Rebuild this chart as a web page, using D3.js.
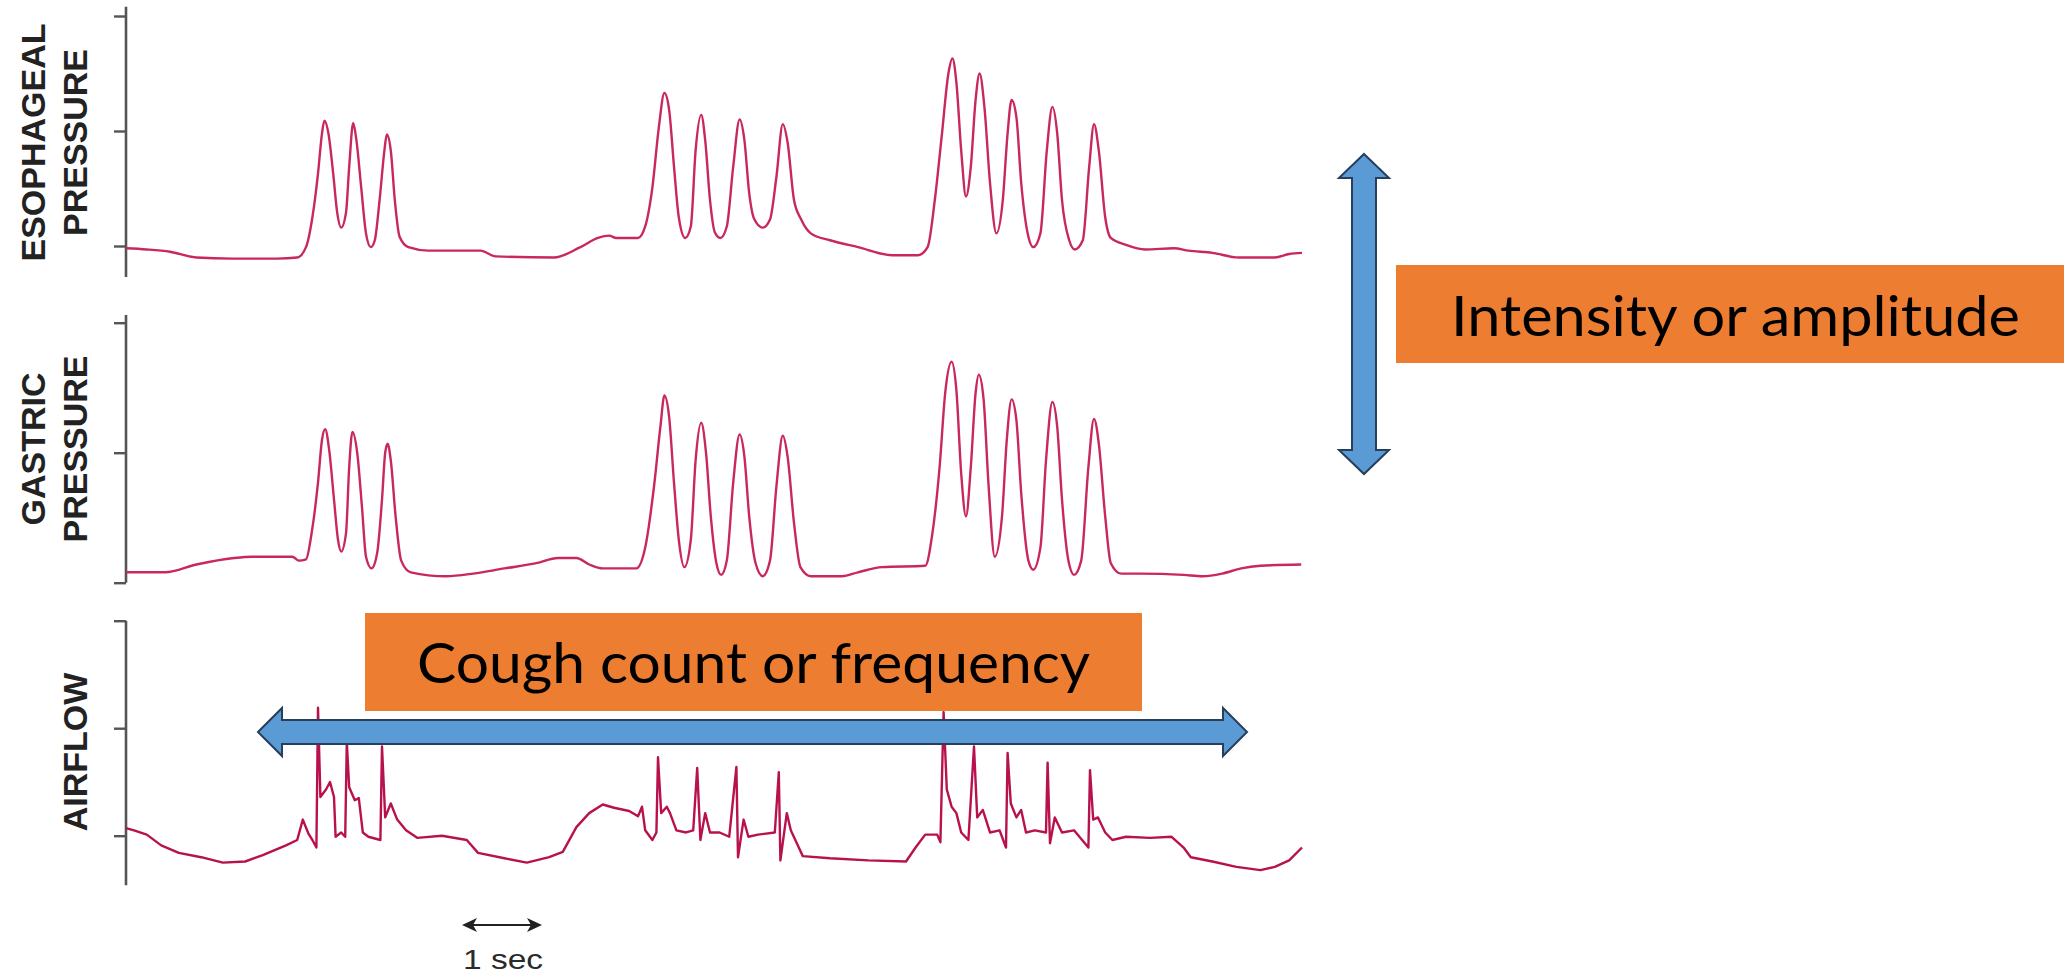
<!DOCTYPE html>
<html>
<head>
<meta charset="utf-8">
<script src="https://cdn.jsdelivr.net/npm/d3@7"></script>
<style>
  html, body { margin: 0; padding: 0; background: #ffffff; }
  svg { display: block; }
</style>
</head>
<body>
<svg id="chart" width="2064" height="976"></svg>
<script>
// ---------------- DATA ----------------
// time in seconds, pressure / flow in arbitrary units (ticks at 0, 100, 200)
const esoTime = [0,0.26,0.55,0.88,1.33,1.89,2.14,2.25,2.33,2.4,2.45,2.48,2.53,2.59,2.64,2.69,2.75,2.79,2.84,2.88,2.94,3.0,3.06,3.11,3.17,3.23,3.26,3.31,3.36,3.42,3.53,3.78,4.43,4.62,5.35,5.68,5.9,6.04,6.13,6.4,6.49,6.58,6.66,6.73,6.79,6.85,6.91,6.99,7.06,7.12,7.19,7.24,7.3,7.36,7.43,7.51,7.59,7.67,7.73,7.79,7.85,7.96,8.05,8.13,8.21,8.27,8.35,8.44,8.56,8.8,9.15,9.58,9.9,10.02,10.11,10.2,10.28,10.33,10.38,10.44,10.5,10.56,10.62,10.67,10.73,10.8,10.88,10.96,11.02,11.07,11.13,11.19,11.28,11.34,11.43,11.51,11.58,11.64,11.7,11.79,11.86,11.96,12.04,12.1,12.16,12.24,12.31,12.5,12.74,13.1,13.28,13.58,13.91,14.36,14.54,14.7];
const esoValue = [-2,-3,-5,-10,-11,-11,-10,-1,25,63,98,109,98,63,29,16,29,69,107,92,51,11,-1,5,40,83,97,83,40,8,-1,-4,-4,-9,-10,-1,7,9,7,7,17,51,103,133,118,69,25,7,17,83,114,92,40,12,7,17,69,110,92,46,24,16,23,60,106,90,40,23,11,5,-1,-8,-8,-1,40,98,150,163,142,83,43,69,127,150,121,55,11,40,98,127,112,55,8,-1,11,83,121,98,40,5,-3,5,69,106,83,25,7,1,-3,-2,-4,-6,-10,-10,-7,-6];

const gasTime = [0,0.49,0.88,1.35,1.58,2.08,2.16,2.25,2.32,2.4,2.45,2.49,2.54,2.6,2.65,2.69,2.75,2.79,2.83,2.89,2.95,3.0,3.07,3.14,3.2,3.24,3.27,3.31,3.37,3.44,3.56,4.0,4.34,4.73,5.13,5.4,5.63,5.79,5.96,6.38,6.49,6.6,6.68,6.73,6.79,6.85,6.91,6.98,7.06,7.12,7.19,7.25,7.31,7.38,7.44,7.51,7.59,7.67,7.73,7.79,7.87,7.96,8.05,8.13,8.21,8.27,8.35,8.43,8.56,8.95,9.15,9.45,9.99,10.08,10.17,10.24,10.32,10.38,10.44,10.5,10.56,10.62,10.66,10.72,10.78,10.86,10.95,11.01,11.07,11.13,11.19,11.28,11.34,11.43,11.5,11.58,11.64,11.7,11.78,11.85,11.94,12.03,12.1,12.16,12.24,12.31,12.44,12.68,13.22,13.46,13.7,13.94,14.18,14.69];
const gasValue = [8,8,14,19,20,20,17,18,38,77,110,118,102,64,33,24,38,89,116,100,58,20,11,23,64,100,107,94,51,17,8,5,7,11,15,19,19,14,11,11,27,74,120,144,127,77,33,12,33,94,123,100,51,15,6,17,77,114,97,51,15,5,17,74,113,97,46,12,5,5,8,12,13,38,89,146,170,148,84,51,89,146,160,141,77,20,51,110,141,125,69,17,10,27,94,139,120,64,17,6,17,89,126,107,51,15,7,7,6,5,7,11,13,14];

const airTime = [0,0.1,0.26,0.44,0.66,0.94,1.21,1.49,1.71,2.0,2.14,2.21,2.28,2.33,2.38,2.4,2.43,2.5,2.55,2.6,2.62,2.69,2.74,2.76,2.79,2.86,2.91,2.96,3.03,3.18,3.2,3.24,3.31,3.39,3.5,3.64,3.95,4.26,4.4,4.73,5.01,5.29,5.46,5.63,5.79,5.96,6.1,6.29,6.4,6.45,6.49,6.58,6.63,6.65,6.69,6.76,6.8,6.88,7.0,7.09,7.14,7.18,7.24,7.3,7.42,7.54,7.63,7.65,7.72,7.78,7.9,8.11,8.16,8.18,8.26,8.31,8.41,8.46,8.8,9.28,9.75,9.87,9.99,10.14,10.18,10.22,10.26,10.32,10.38,10.44,10.53,10.6,10.64,10.71,10.8,10.92,11.0,11.02,11.06,11.13,11.19,11.25,11.36,11.5,11.52,11.55,11.61,11.7,11.85,12.03,12.05,12.09,12.15,12.24,12.33,12.5,12.8,13.07,13.22,13.31,13.58,13.88,14.18,14.36,14.54,14.7];
const airValue = [7,5,1,-9,-16,-20,-25,-24,-18,-9,-4,15,2,-4,-11,119,36,43,50,36,-1,3,-1,87,45,33,35,3,-1,-4,83,17,30,15,5,-2,0,-4,-16,-21,-25,-20,-15,8,21,29,26,23,18,27,5,-4,3,73,21,27,21,5,3,5,63,-4,21,3,3,-1,64,-20,15,-1,1,3,59,-23,21,5,-11,-19,-21,-23,-24,-11,1,1,-6,115,43,27,21,3,-4,83,17,24,3,5,-11,77,30,17,24,3,5,3,68,-7,17,3,5,-11,61,15,17,3,-4,-1,-2,-1,-11,-20,-24,-29,-32,-29,-23,-11];

const panelLabels = [["ESOPHAGEAL", "PRESSURE"], ["GASTRIC", "PRESSURE"], ["AIRFLOW"]];
const tickValues = [0, 100, 200];
const timeDomain = [0, 14.7];
const scaleBar = [4.2, 5.2];          // one second
const scaleBarLabel = "1 sec";
const annotationLabels = ["Cough count or frequency", "Intensity or amplitude"];

// ---------------- LAYOUT ----------------
const svg = d3.select("#chart");
svg.append("rect").attr("width", 2064).attr("height", 976).attr("fill", "#ffffff");

const x = d3.scaleLinear().domain(timeDomain).range([126, 1302]);

const panels = [
  { time: esoTime, value: esoValue, labels: panelLabels[0], y0: 246,   y200: 16,    spine: [-27, 208], labelY: 142.5, color: "#c8285f", width: 2.4 },
  { time: gasTime, value: gasValue, labels: panelLabels[1], y0: 582.7, y200: 322.7, spine: [0, 206],   labelY: 449,   color: "#c8285f", width: 2.4 },
  { time: airTime, value: airValue, labels: panelLabels[2], y0: 835.7, y200: 620.7, spine: [-46, 200], labelY: 752,   color: "#b8124e", width: 2.4 }
];

panels.forEach((p, i) => {
  const y = d3.scaleLinear().domain([0, 200]).range([p.y0, p.y200]);
  const g = svg.append("g");

  const axis = d3.axisLeft(y).tickValues(tickValues).tickSize(12).tickFormat("");
  const ag = g.append("g").attr("transform", "translate(126,0)").call(axis);
  ag.select(".domain").remove();
  ag.selectAll(".tick line").attr("stroke", "#555").attr("stroke-width", 2.4);

  g.append("line")
    .attr("x1", 126).attr("x2", 126)
    .attr("y1", y(p.spine[0])).attr("y2", y(p.spine[1]))
    .attr("stroke", "#555").attr("stroke-width", 2.6);

  const pts = p.time.map((t, k) => [t, p.value[k]]);
  const line = d3.line()
    .x(d => x(d[0]))
    .y(d => y(d[1]))
    .curve(i === 2 ? d3.curveLinear : d3.curveMonotoneX);
  g.append("path")
    .datum(pts)
    .attr("d", line)
    .attr("fill", "none")
    .attr("stroke", p.color)
    .attr("stroke-width", p.width)
    .attr("stroke-linejoin", "round");

  const n = p.labels.length;
  p.labels.forEach((lab, k) => {
    const bx = n === 2 ? (k === 0 ? 45 : 87) : 87;
    svg.append("text")
      .attr("transform", `translate(${bx},${p.labelY}) rotate(-90)`)
      .attr("text-anchor", "middle")
      .attr("font-family", "'Liberation Sans', Arial, sans-serif")
      .attr("font-weight", "bold")
      .attr("font-size", 34)
      .attr("fill", "#222")
      .text(lab);
  });
});

// ---------------- SCALE BAR (1 sec) ----------------
const sbY = 925;
const sx0 = x(scaleBar[0]), sx1 = x(scaleBar[1]);
svg.append("line").attr("x1", sx0 + 6).attr("x2", sx1 - 6).attr("y1", sbY).attr("y2", sbY)
  .attr("stroke", "#222").attr("stroke-width", 2.2);
svg.append("path")
  .attr("d", `M${sx0},${sbY} L${sx0 + 15},${sbY - 7} L${sx0 + 11},${sbY} L${sx0 + 15},${sbY + 7} Z`)
  .attr("fill", "#222");
svg.append("path")
  .attr("d", `M${sx1},${sbY} L${sx1 - 15},${sbY - 7} L${sx1 - 11},${sbY} L${sx1 - 15},${sbY + 7} Z`)
  .attr("fill", "#222");
svg.append("text")
  .attr("x", sx0 + 1).attr("y", 969)
  .attr("font-family", "'Liberation Sans', Arial, sans-serif")
  .attr("font-size", 28)
  .attr("fill", "#2a2a2a")
  .attr("textLength", 80).attr("lengthAdjust", "spacingAndGlyphs")
  .text(scaleBarLabel);

// ---------------- ANNOTATIONS ----------------
const arrowFill = "#5b9bd5", arrowStroke = "#263f5c";

{
  const xl = 258, xr = 1247, cy = 732, head = 24, hh = 24, sh = 12;
  const d = `M${xl},${cy} L${xl + head},${cy - hh} L${xl + head},${cy - sh} L${xr - head},${cy - sh} L${xr - head},${cy - hh} L${xr},${cy} L${xr - head},${cy + hh} L${xr - head},${cy + sh} L${xl + head},${cy + sh} L${xl + head},${cy + hh} Z`;
  svg.append("path").attr("d", d).attr("fill", arrowFill).attr("stroke", arrowStroke).attr("stroke-width", 2);
}
{
  const cx = 1364, yt = 154, yb = 474, head = 24, hw = 25, sw = 12;
  const d = `M${cx},${yt} L${cx + hw},${yt + head} L${cx + sw},${yt + head} L${cx + sw},${yb - head} L${cx + hw},${yb - head} L${cx},${yb} L${cx - hw},${yb - head} L${cx - sw},${yb - head} L${cx - sw},${yt + head} L${cx - hw},${yt + head} Z`;
  svg.append("path").attr("d", d).attr("fill", arrowFill).attr("stroke", arrowStroke).attr("stroke-width", 2);
}

const boxes = [
  { x: 365, y: 613, w: 777, h: 98, tx: 417, ty: 683, tl: 673, label: annotationLabels[0] },
  { x: 1396, y: 265, w: 668, h: 98, tx: 1451, ty: 336, tl: 569, label: annotationLabels[1] }
];
boxes.forEach(b => {
  svg.append("rect").attr("x", b.x).attr("y", b.y).attr("width", b.w).attr("height", b.h).attr("fill", "#ed7d31");
  svg.append("text")
    .attr("x", b.tx).attr("y", b.ty)
    .attr("font-family", "Lato, 'Open Sans', sans-serif")
    .attr("font-size", 57)
    .attr("fill", "#000")
    .attr("textLength", b.tl).attr("lengthAdjust", "spacingAndGlyphs")
    .text(b.label);
});
</script>
</body>
</html>
